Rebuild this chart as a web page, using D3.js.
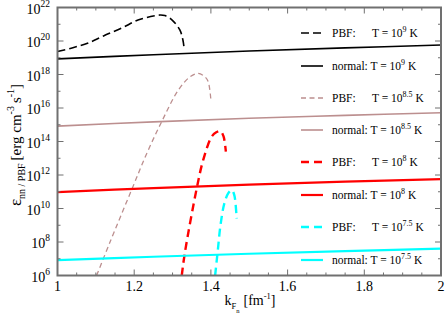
<!DOCTYPE html>
<html>
<head>
<meta charset="utf-8">
<script src="https://cdn.jsdelivr.net/npm/d3@7"></script>
<style>
  body { margin: 0; background: #fff; }
  svg { display: block; font-family: "Liberation Serif", "Times New Roman", serif; }
</style>
</head>
<body>
<svg width="445" height="321"></svg>
<script>
// values are log10 of emissivity
const normalX = [1.0, 1.25, 1.5, 1.75, 2.0];
const normal9 = [18.93, 19.18, 19.40, 19.59, 19.76];
const normal85 = [14.92, 15.17, 15.39, 15.56, 15.72];
const normal8 = [10.98, 11.22, 11.43, 11.60, 11.75];
const normal75 = [6.92, 7.12, 7.30, 7.46, 7.60];

const pbf9X = [1.0, 1.04, 1.08, 1.12, 1.168, 1.21, 1.254, 1.267, 1.28, 1.299, 1.319, 1.327, 1.33];
const pbf9 = [19.37, 19.6, 19.88, 20.3, 20.78, 21.25, 21.51, 21.55, 21.52, 21.25, 20.66, 20.06, 19.6];

const pbf85X = [1.102, 1.137, 1.193, 1.233, 1.272, 1.315, 1.345, 1.367, 1.385, 1.393, 1.40];
const pbf85 = [6.0, 8.0, 11.1, 13.3, 15.2, 17.07, 17.85, 18.07, 17.85, 17.57, 16.48];

const pbf8X = [1.324, 1.332, 1.363, 1.38, 1.402, 1.414, 1.425, 1.433, 1.439];
const pbf8 = [6.0, 7.34, 11.2, 12.9, 14.29, 14.55, 14.62, 14.3, 13.39];

const pbf75X = [1.411, 1.418, 1.425, 1.435, 1.445, 1.454, 1.461, 1.467];
const pbf75 = [6.0, 7.5, 9.0, 10.3, 10.9, 11.1, 10.8, 9.4];

const xTicks = [1, 1.2, 1.4, 1.6, 1.8, 2];
const yTickExp = [6, 8, 10, 12, 14, 16, 18, 20, 22];

const series = [
  {x: pbf9X, y: pbf9, color: "#000000", w: 1.6, dash: "8,4", kind: "PBF:", exp: "9"},
  {x: normalX, y: normal9, color: "#000000", w: 1.6, dash: null, kind: "normal:", exp: "9"},
  {x: pbf85X, y: pbf85, color: "#bc8f8f", w: 1.3, dash: "5,3.5", kind: "PBF:", exp: "8.5"},
  {x: normalX, y: normal85, color: "#bc8f8f", w: 1.6, dash: null, kind: "normal:", exp: "8.5"},
  {x: pbf8X, y: pbf8, color: "#ff0000", w: 2.4, dash: "8,5", kind: "PBF:", exp: "8"},
  {x: normalX, y: normal8, color: "#ff0000", w: 2.2, dash: null, kind: "normal:", exp: "8"},
  {x: pbf75X, y: pbf75, color: "#00ffff", w: 2.4, dash: "8,5", kind: "PBF:", exp: "7.5"},
  {x: normalX, y: normal75, color: "#00ffff", w: 2.2, dash: null, kind: "normal:", exp: "7.5"}
];

const svg = d3.select("svg");
const pL = 57.5, pR = 441, pT = 7.5, pB = 275.5;

const x = d3.scaleLinear().domain([1, 2]).range([pL, pR]);
const y = d3.scaleLog().domain([1e6, 1e22]).range([pB, pT]);

svg.append("clipPath").attr("id", "clip")
  .append("rect").attr("x", pL).attr("y", pT)
  .attr("width", pR - pL).attr("height", pB - pT);

const line = d3.line()
  .x(d => x(d[0]))
  .y(d => y(Math.pow(10, d[1])))
  .curve(d3.curveCatmullRom.alpha(0.5));

const plot = svg.append("g").attr("clip-path", "url(#clip)");
series.forEach(s => {
  plot.append("path")
    .attr("d", line(s.x.map((v, i) => [v, s.y[i]])))
    .attr("fill", "none")
    .attr("stroke", s.color)
    .attr("stroke-width", s.w)
    .attr("stroke-dasharray", s.dash);
});

// ticks on all four sides
const axisColor = "#707070";
const tk = svg.append("g").attr("stroke", axisColor).attr("stroke-width", 1);
const xMinor = d3.range(1, 2.0001, 0.05);
xMinor.forEach(v => {
  const major = xTicks.some(t => Math.abs(t - v) < 1e-6);
  const len = major ? 6 : 3;
  tk.append("line").attr("x1", x(v)).attr("x2", x(v)).attr("y1", pB).attr("y2", pB - len);
  tk.append("line").attr("x1", x(v)).attr("x2", x(v)).attr("y1", pT).attr("y2", pT + len);
});
d3.range(6, 23).forEach(e => {
  const len = e % 2 === 0 ? 6 : 3;
  const yy = y(Math.pow(10, e));
  tk.append("line").attr("x1", pL).attr("x2", pL + len).attr("y1", yy).attr("y2", yy);
  tk.append("line").attr("x1", pR).attr("x2", pR - len).attr("y1", yy).attr("y2", yy);
});

svg.append("rect")
  .attr("x", pL).attr("y", pT)
  .attr("width", pR - pL).attr("height", pB - pT)
  .attr("fill", "none").attr("stroke", axisColor).attr("stroke-width", 2);

// tick labels
svg.selectAll(".xl").data(xTicks).enter().append("text")
  .attr("x", d => x(d)).attr("y", 291)
  .attr("text-anchor", "middle").attr("font-size", 14)
  .text(d => d3.format("")(d));

yTickExp.forEach(e => {
  const t = svg.append("text")
    .attr("x", 50).attr("y", y(Math.pow(10, e)) + 6)
    .attr("text-anchor", "end").attr("font-size", 14);
  t.append("tspan").text("10");
  t.append("tspan").attr("dy", -7).attr("font-size", 9.5).text(e);
});

// axis titles
const xt = svg.append("text").attr("x", 250).attr("y", 305)
  .attr("text-anchor", "middle").attr("font-size", 14);
xt.append("tspan").text("k");
xt.append("tspan").attr("dy", 4).attr("font-size", 8.5).text("F");
xt.append("tspan").attr("dy", 4).attr("font-size", 6.5).text("n");
xt.append("tspan").attr("dy", -8).attr("dx", 4).text("[fm");
xt.append("tspan").attr("dy", -6).attr("font-size", 8.5).text("-1");
xt.append("tspan").attr("dy", 6).text("]");

const yt = svg.append("text")
  .attr("transform", "translate(21,145) rotate(-90)")
  .attr("text-anchor", "middle").attr("font-size", 15);
yt.append("tspan").attr("font-size", 17).text("ε");
yt.append("tspan").attr("dy", 4).attr("font-size", 10).text("nn / PBF");
yt.append("tspan").attr("dy", -4).attr("dx", 3).text("[erg cm");
yt.append("tspan").attr("dy", -7).attr("font-size", 10).text("-3");
yt.append("tspan").attr("dy", 7).attr("dx", 3).text("s");
yt.append("tspan").attr("dy", -7).attr("font-size", 10).text("-1");
yt.append("tspan").attr("dy", 7).text("]");

// legend
const legY = [37, 70, 102, 134, 166, 199, 231, 264];
series.forEach((s, i) => {
  const ly = legY[i];
  svg.append("line")
    .attr("x1", 301).attr("x2", 323).attr("y1", ly - 4).attr("y2", ly - 4)
    .attr("stroke", s.color).attr("stroke-width", s.w)
    .attr("stroke-dasharray", s.dash);
  const t = svg.append("text").attr("x", 332).attr("y", ly).attr("font-size", 11.5);
  if (s.kind === "PBF:") {
    t.append("tspan").text("PBF:");
    t.append("tspan").attr("x", 372).text("T = 10");
  } else {
    t.append("tspan").text("normal: T = 10");
  }
  t.append("tspan").attr("dy", -5).attr("font-size", 8).text(s.exp);
  t.append("tspan").attr("dy", 5).text(" K");
});
</script>
</body>
</html>
